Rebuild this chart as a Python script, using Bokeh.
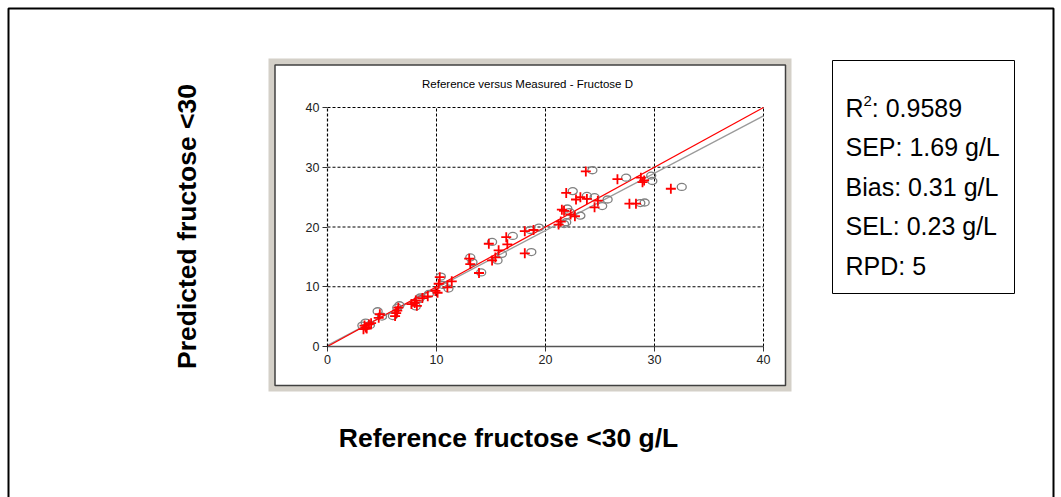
from bokeh.plotting import figure
from bokeh.models import BoxAnnotation, Label, FixedTicker, Range1d, LinearAxis
from bokeh.embed import file_html
from bokeh.resources import INLINE

# ---------------- data ----------------
ref_red = [3.3, 3.5, 3.6, 3.8, 3.4, 4.0, 4.7, 4.8, 6.2, 6.4, 6.5, 6.3, 7.7, 8.1, 8.2, 8.0,
           8.7, 9.2, 9.9, 10.1, 10.2, 10.3, 11.0, 11.4, 13.0, 13.1, 13.9, 14.8, 15.1, 15.4,
           15.7, 16.4, 16.5, 18.1, 18.1, 18.9, 21.2, 21.4, 21.5, 21.7, 21.9, 22.3, 22.7,
           22.8, 23.2, 23.7, 23.8, 24.5, 24.8, 26.6, 27.7, 28.3, 28.75, 28.9, 29.05, 31.5]
pred_red = [2.9, 3.2, 3.0, 3.7, 3.5, 3.9, 4.8, 5.4, 5.1, 6.0, 6.5, 5.6, 7.1, 7.7, 6.8, 7.3,
            8.1, 8.4, 9.3, 9.0, 10.5, 11.6, 9.9, 10.9, 14.7, 13.8, 12.3, 17.2, 14.4, 14.9,
            16.1, 18.3, 17.1, 19.3, 15.6, 19.5, 20.4, 20.9, 22.9, 22.7, 25.7, 22.1, 21.8,
            24.6, 25.0, 29.3, 24.7, 23.3, 24.4, 28.0, 23.9, 23.9, 28.25, 27.5, 27.8, 26.4]

ref_gray = [3.2, 3.5, 3.9, 4.6, 5.0, 6.0, 6.4, 6.6, 8.1, 8.4, 8.5, 9.3, 10.4, 10.6, 11.1,
            13.1, 13.3, 14.1, 15.1, 15.6, 16.0, 17.0, 18.6, 18.7, 19.4, 21.7, 21.9, 22.0,
            22.2, 22.5, 23.2, 23.8, 24.3, 24.5, 25.2, 25.7, 27.4, 28.7, 29.1, 29.7, 29.8, 32.5]
pred_gray = [3.5, 4.0, 3.6, 5.9, 5.0, 5.1, 6.5, 6.9, 6.7, 7.9, 8.2, 8.8, 11.7, 10.3, 9.7,
             14.9, 14.1, 12.4, 17.5, 14.4, 15.5, 18.5, 19.5, 15.8, 19.9, 20.5, 20.8, 23.1,
             22.5, 26.0, 21.9, 25.2, 29.5, 25.0, 23.5, 24.6, 28.25, 24.0, 24.1, 28.6, 27.7, 26.7]

line_x = [0, 40]
fit_red = [0, 40]
fit_gray = [0.2, 38.6]

ticks = [0, 10, 20, 30, 40]
grid_ticks = [10, 20, 30, 40]
axis_min, axis_max = 0, 40

title_text = "Reference versus Measured - Fructose D"
x_label = "Reference fructose <30 g/L"
y_label = "Predicted fructose <30"
r2_value = "0.9589"
stat_names = ["SEP", "Bias", "SEL", "RPD"]
stat_values = ["1.69 g/L", "0.31 g/L", "0.23 g/L", "5"]

# ---------------- layout (pixels) ----------------
W, H = 1061, 497
PL, PR, PT, PB = 327, 763, 107, 346   # pixel positions of data 0..40


def dx(px):
    return (px - PL) / (PR - PL) * 40.0


def dy(py):
    return (PB - py) / (PB - PT) * 40.0


p = figure(width=W, height=H, output_backend="svg", toolbar_location=None,
           x_range=Range1d(dx(0), dx(W)), y_range=Range1d(dy(H), dy(0)),
           min_border=0, x_axis_type=None, y_axis_type=None)
p.background_fill_color = "white"
p.border_fill_color = "white"
p.outline_line_color = None
p.grid.visible = False


def box(l, r, t, b, fill=None, line=None, lw=1.0):
    return BoxAnnotation(left=dx(l), right=dx(r), top=dy(t), bottom=dy(b),
                         fill_color=fill, fill_alpha=1.0, line_color=line, line_alpha=1.0,
                         line_width=lw, level="image")


# ---------------- decorations ----------------
p.add_layout(box(8, 1053, 8, 530, line="black", lw=2))
p.add_layout(box(268, 791, 58, 391, fill="#d4d0c8"))
p.add_layout(box(274.5, 785, 64.5, 385, fill="white", line="#404040", lw=1.5))
p.add_layout(box(832, 1014, 60, 293, fill="white", line="black", lw=1))

FONT = "Liberation Sans"
SF = "25px"
rows_y = [107, 146, 186, 225, 265]
tx = 845
p.add_layout(Label(x=dx(tx), y=dy(rows_y[0]), text="R", text_font=FONT, text_font_size=SF,
                   text_baseline="middle", text_color="black"))
p.add_layout(Label(x=dx(tx + 18.0), y=dy(rows_y[0] - 7), text="2", text_font=FONT,
                   text_font_size="15px", text_baseline="middle", text_color="black"))
p.add_layout(Label(x=dx(tx + 26.3), y=dy(rows_y[0]), text=": " + r2_value, text_font=FONT,
                   text_font_size=SF, text_baseline="middle", text_color="black"))
for name, val, ry in zip(stat_names, stat_values, rows_y[1:]):
    p.add_layout(Label(x=dx(tx), y=dy(ry), text=f"{name}: {val}", text_font=FONT,
                       text_font_size=SF, text_baseline="middle", text_color="black"))

# chart title inside panel
p.add_layout(Label(x=dx(527), y=dy(83), text=title_text, text_font=FONT,
                   text_font_size="11.5px", text_align="center", text_baseline="middle",
                   text_color="black"))

# outer axis labels
p.add_layout(Label(x=dx(508), y=dy(437), text=x_label, text_font=FONT,
                   text_font_size="26.5px", text_font_style="bold", text_align="center",
                   text_baseline="middle", text_color="black"))
p.add_layout(Label(x=dx(186), y=dy(226), text=y_label, text_font=FONT,
                   text_font_size="26.5px", text_font_style="bold", text_align="center",
                   text_baseline="middle", angle=1.5707963, text_color="black"))

# ---------------- grid (dashed) ----------------
p.segment(x0=grid_ticks, x1=grid_ticks, y0=[axis_min] * len(grid_ticks),
          y1=[axis_max] * len(grid_ticks), line_color="black", line_dash="3 2", line_width=1)
p.segment(x0=[axis_min] * len(grid_ticks), x1=[axis_max] * len(grid_ticks),
          y0=grid_ticks, y1=grid_ticks, line_color="black", line_dash="3 2", line_width=1)

# ---------------- axes ----------------
xax = LinearAxis(fixed_location=axis_min, bounds=(axis_min, axis_max))
yax = LinearAxis(fixed_location=axis_min, bounds=(axis_min, axis_max))
for ax in (xax, yax):
    ax.ticker = FixedTicker(ticks=ticks)
    ax.major_label_text_font = FONT
    ax.major_label_text_font_size = "12.5px"
    ax.major_label_text_color = "#222222"
    ax.major_tick_in = 0
    ax.major_tick_out = 5
    ax.major_tick_line_color = "#333333"
    ax.minor_tick_line_color = None
    ax.major_label_standoff = 3
xax.axis_line_color = "#555555"
xax.axis_line_width = 1.5
yax.axis_line_color = "black"
yax.axis_line_dash = "3 2"
yax.axis_line_width = 1.2
p.add_layout(xax, "below")
p.add_layout(yax, "left")

# ---------------- data glyphs ----------------
p.line(line_x, fit_gray, line_color="#9a9a9a", line_width=1.3)
p.line(line_x, fit_red, line_color="#ff0000", line_width=1.2)
p.ellipse(x=ref_gray, y=pred_gray, width=9, height=7, width_units="screen",
          height_units="screen", fill_color=None, line_color="#808080", line_width=1.3)
p.scatter(ref_red, pred_red, marker="cross", size=10, line_color="#ff0000", line_width=1.8)

open("out.html", "w").write(file_html(p, INLINE))
